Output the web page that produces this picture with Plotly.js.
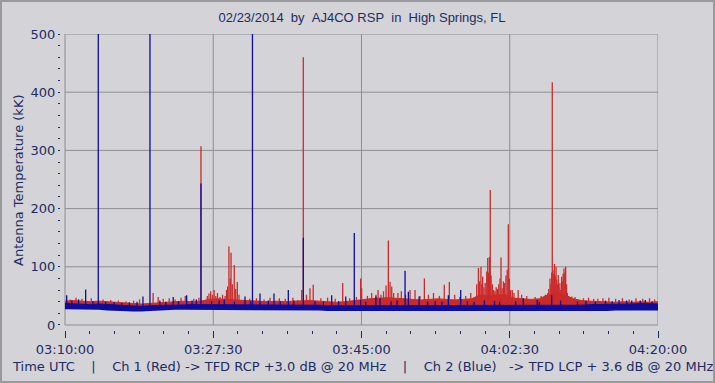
<!DOCTYPE html>
<html>
<head>
<meta charset="utf-8">
<script src="https://cdn.plot.ly/plotly-3.0.1.min.js"></script>
<style>
  html, body { margin: 0; padding: 0; background: #d4d4d8; }
  #wrap { position: relative; width: 715px; height: 383px; }
  #chart { width: 715px; height: 383px; }
  #frame { position: absolute; left: 0; top: 0; width: 715px; height: 383px; box-sizing: border-box;
           border: 2px solid #9a9a9e; pointer-events: none; }
</style>
</head>
<body>
<div id="wrap"><div id="chart"></div><div id="frame"></div></div>
<script>
// ---- data (minutes after 03:10:00 UTC, values in kK) ----
const envMinutes = [0,1,2,3,4,5,6,7,8,9,10,11,12,13,14,15,16,17,18,19,20,21,22,23,24,25,26,27,28,29,30,31,32,33,34,35,36,37,38,39,40,41,42,43,44,45,46,47,48,49,50,51,52,53,54,55,56,57,58,59,60,61,62,63,64,65,66,67,68,69,70];
const redHigh  = [41,42,41,40,41,40,39,38,37,36,37,38,38,39,41,40,41,44,45,44,43,42,41,40,40,41,40,41,42,42,41,40,39,40,42,43,45,46,47,46,45,44,43,44,45,44,43,44,45,52,50,52,52,46,45,44,45,52,56,52,45,42,41,40,40,39,40,39,40,39,40];
const redLow   = [29,29,28,28,28,27,26,25,25,25,26,27,27,28,28,28,28,28,28,28,28,28,28,28,28,28,28,27,27,27,27,26,26,26,26,26,26,26,26,26,26,26,26,26,26,26,26,26,26,26,26,26,26,26,26,26,26,26,26,25,25,26,26,26,26,27,27,27,28,27,27];
const blueHigh = [37,36,36,35,36,35,34,33,32,32,33,34,34,34,35,35,35,35,35,34,34,35,35,35,35,35,35,34,34,34,34,33,33,33,33,33,34,34,34,34,34,34,33,33,34,34,34,33,33,33,34,34,34,33,33,33,33,34,34,34,34,34,35,35,35,36,36,36,37,36,36];
const blueLow  = [27,27,26,26,26,25,24,23,23,23,24,25,25,26,26,26,26,26,26,26,26,26,26,26,26,26,26,25,25,25,25,24,24,24,24,24,24,24,24,24,24,24,24,24,24,24,24,24,24,24,24,24,24,24,24,24,24,24,24,23,23,24,24,24,24,25,25,25,26,25,25];

const redSpikeMinutes = [
  0.6,1.3,2.0,3.1,4.5,5.4,6.3,7.2,8.1,8.8,10.4,11.0,11.6,12.3,13.0,13.7,14.2,15.2,15.8,
  16.05,16.8,17.0,17.2,17.4,17.6,17.8,18.0,18.3,18.6,18.9,19.07,19.2,19.35,19.5,19.6,19.75,19.98,20.15,20.34,20.54,
  21.8,22.6,23.5,24.2,25.3,26.0,26.9,27.5,27.94,28.13,28.5,28.92,29.3,30.2,31.0,31.9,32.78,33.6,34.4,34.9,35.02,35.7,
  36.2,36.7,36.95,37.3,37.6,37.9,38.17,38.37,38.57,38.8,39.3,39.7,40.2,40.73,41.32,41.9,42.42,42.9,43.5,44.2,44.77,45.37,
  46.0,46.6,47.3,47.9,48.6,48.8,48.95,49.1,49.2,49.3,49.45,49.6,49.78,49.9,50.0,50.1,50.2,50.3,50.45,50.6,50.75,50.9,
  51.05,51.2,51.35,51.47,51.6,51.75,51.9,52.05,52.2,52.33,52.45,52.6,52.8,53.0,53.5,53.9,54.5,55.0,55.5,56.2,56.7,
  57.0,57.1,57.25,57.35,57.45,57.52,57.6,57.7,57.78,57.87,57.97,58.05,58.15,58.23,58.32,58.42,58.52,58.63,58.72,58.8,58.9,59.0,59.1,59.2,59.3,59.45,
  59.83,60.2,60.8,61.2,61.8,62.4,62.9,63.5,64.2,65.0,65.8,66.6,67.4,68.2,69.0,69.6];
const redSpikeValues = [
  44,47,45,46,44,43,42,41,42,44,55,48,45,46,44,47,50,45,47,
  307,50,54,58,52,60,50,55,48,52,50,60,66,135,80,124,70,103,62,74,52,
  45,46,44,47,46,45,47,43,60,460,52,63,69,46,47,45,72,46,48,80,63,50,
  55,52,60,52,58,68,145,74,66,55,55,58,52,60,60,50,80,52,55,50,69,74,
  52,48,50,55,70,98,75,100,70,83,65,72,92,115,90,117,232,85,70,60,58,65,
  62,70,80,116,63,75,72,85,95,173,80,60,60,55,60,52,50,43,48,50,52,
  55,62,80,70,90,417,95,88,105,85,100,78,70,86,65,72,60,83,75,88,97,90,100,70,55,48,
  49,48,43,46,47,45,45,46,47,45,46,44,46,45,46,44];

const blueSpikeMinutes = [0.2,0.8,1.6,2.44,3.3,3.93,4.8,5.8,6.7,7.6,8.5,9.2,10.03,11.2,11.9,12.77,13.4,14.36,15.0,15.5,16.05,17.3,18.2,18.8,20.0,
  21.25,21.9,22.13,23.02,24.0,24.67,25.4,26.36,27.0,28.13,29.5,30.5,31.48,32.3,33.14,34.15,34.9,35.5,36.7,37.18,38.5,39.2,40.14,40.53,41.8,
  42.8,43.7,44.5,45.25,46.71,47.5,48.3,49.5,50.7,51.3,53.2,54.1,55.74,56.0,57.45,58.5,60.5,61.5,62.6,63.8,64.6,65.4,66.3,66.9,67.9,68.5,69.3];
const blueSpikeValues  = [51,42,44,61,41,600,40,39,38,39,40,49,600,42,40,48,41,51,42,44,243,41,42,44,40,
  49,41,600,54,42,54,41,60,42,150,41,40,51,41,49,158,43,40,49,46,41,42,93,57,49,
  40,41,40,51,60,41,40,42,41,40,41,46,43,40,51,42,40,41,40,42,41,43,42,42,42,43,41];

const yTickValues = [0,100,200,300,400,500];
const xGridMinutes = [17.5,35,52.5];

// ---- helpers ----
const base = Date.UTC(2014,1,23,3,10,0);
function ts(m){ return new Date(base + m*60000).toISOString().replace('T',' ').replace('Z',''); }

const RED = '#cc2a2a', BLUE = '#0d0d9c', TXT = '#1d2b63', GRID = '#8e8e92';
const spikeBase = 30;

function band(lo, hi, color){
  return [
    {x: envMinutes.map(ts), y: lo, type:'scatter', mode:'lines', line:{width:0, color:color}, hoverinfo:'skip'},
    {x: envMinutes.map(ts), y: hi, type:'scatter', mode:'lines', fill:'tonexty', fillcolor:color, line:{width:1, color:color}, hoverinfo:'skip'}
  ];
}
function spikes(tm, vals, color){
  const xs=[], ys=[];
  tm.forEach((m,i)=>{ xs.push(ts(m), ts(m), null); ys.push(spikeBase, vals[i], null); });
  return {x:xs, y:ys, type:'scatter', mode:'lines', line:{width:1.3, color:color}, connectgaps:false, hoverinfo:'skip'};
}

const traces = [
  ...band(redLow, redHigh, RED),
  spikes(redSpikeMinutes, redSpikeValues, RED),
  ...band(blueLow, blueHigh, BLUE),
  spikes(blueSpikeMinutes, blueSpikeValues, BLUE)
];

const shapes = [];
xGridMinutes.forEach(m => shapes.push({type:'line', xref:'x', yref:'y', x0:ts(m), x1:ts(m), y0:0, y1:500, line:{color:GRID, width:1}, layer:'below'}));
yTickValues.slice(1,-1).forEach(v => shapes.push({type:'line', xref:'x', yref:'y', x0:ts(0), x1:ts(70), y0:v, y1:v, line:{color:GRID, width:1}, layer:'below'}));
shapes.push({type:'rect', xref:'x', yref:'y', x0:ts(0), x1:ts(70), y0:0, y1:500, line:{color:GRID, width:1}, fillcolor:'rgba(0,0,0,0)', layer:'below'});

const NB = '\u00a0';
const bottomText = 'Time UTC' + NB.repeat(4) + '|' + NB.repeat(4) + 'Ch 1 (Red) -> TFD RCP +3.0 dB @ 20 MHz' + NB.repeat(4) + '|' + NB.repeat(4) + 'Ch 2 (Blue)' + NB.repeat(3) + '-> TFD LCP + 3.6 dB @ 20 MHz';
const titleText = '02/23/2014' + NB+NB + 'by' + NB+NB + 'AJ4CO RSP' + NB+NB + 'in' + NB+NB + 'High Springs, FL';

const layout = {
  width: 715, height: 383,
  paper_bgcolor: '#d4d4d8', plot_bgcolor: '#d4d4d8',
  margin: {l:61, r:57, t:34, b:53, pad:0},
  showlegend: false,
  hovermode: false,
  title: {text: titleText, font:{family:'Liberation Sans, Arial, sans-serif', size:13, color:TXT},
          x: 362/715, xref:'container', xanchor:'center', y: 1-17/383, yref:'container', yanchor:'middle'},
  xaxis: {
    type:'date', range:[ts(-0.472), ts(70)],
    showgrid:false, zeroline:false, showline:false,
    tick0: ts(0), dtick: 17.5*60000, tickformat:'%H:%M:%S',
    ticks:'outside', ticklen:7, tickwidth:1, tickcolor:TXT,
    minor:{tick0: ts(0), dtick: 17.5/6*60000, ticks:'outside', ticklen:3, tickwidth:1, tickcolor:TXT, showgrid:false},
    tickfont:{family:'DejaVu Sans, sans-serif', size:13, color:TXT}
  },
  yaxis: {
    range:[-8.6, 500], showgrid:false, zeroline:false, showline:false,
    tickvals: yTickValues, ticks:'outside', ticklen:2, tickwidth:1, tickcolor:TXT,
    minor:{dtick:20, ticks:'outside', ticklen:2, tickwidth:1, tickcolor:TXT, showgrid:false},
    tickfont:{family:'DejaVu Sans, sans-serif', size:13, color:TXT}
  },
  shapes: shapes,
  annotations: [
    {text: bottomText, xref:'paper', yref:'paper', x:(10-61)/597, y:(330-366)/296, xanchor:'left', yanchor:'middle',
     showarrow:false, font:{family:'DejaVu Sans, sans-serif', size:13, color:TXT}},
    {text: 'Antenna Temperature (kK)', xref:'paper', yref:'paper', x:(18-61)/597, y:(330-181)/296, xanchor:'center', yanchor:'middle',
     textangle:-90, showarrow:false, font:{family:'DejaVu Sans, sans-serif', size:13, color:TXT}}
  ]
};

Plotly.newPlot('chart', traces, layout, {staticPlot:true, displayModeBar:false});
</script>
</body>
</html>
